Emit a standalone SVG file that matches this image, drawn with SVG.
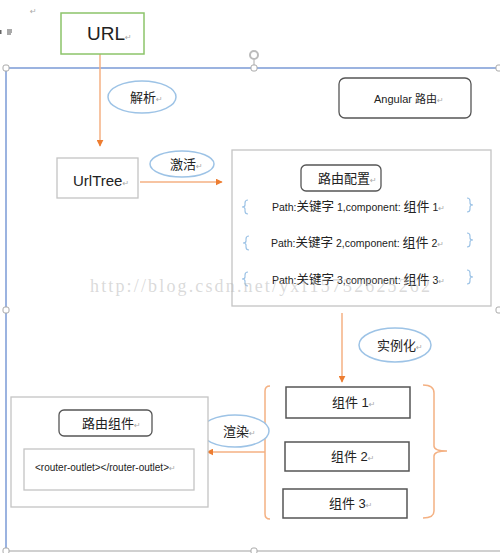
<svg xmlns="http://www.w3.org/2000/svg" width="500" height="553" viewBox="0 0 500 553">
<defs>
<style>
.t{font-family:"Liberation Sans","Noto Sans CJK SC",sans-serif;fill:#222;}
.rm{fill:#aaa;font-size:8px;font-family:"DejaVu Sans",sans-serif;}
.gbox{fill:#fff;stroke:#c4c4c4;stroke-width:1.3;}
.dbox{fill:#fff;stroke:#555;stroke-width:1.5;}
.rbox{fill:#fff;stroke:#555;stroke-width:1.3;}
.ell{fill:#fff;stroke:#9dc3e6;stroke-width:1.5;}
.con{stroke:#f4b183;stroke-width:1.5;fill:none;}
.br{stroke:#9dc3e6;stroke-width:1.2;fill:none;}
.obr{stroke:#f4b183;stroke-width:1.5;fill:none;}
.hd{fill:#fff;stroke:#aaa;stroke-width:1;}
</style>
<marker id="ah" viewBox="0 0 10 10" refX="9" refY="5" markerWidth="7" markerHeight="7" markerUnits="userSpaceOnUse" orient="auto">
<path d="M0,0 L10,5 L0,10 z" fill="#ed7d31"/>
</marker>
</defs>
<rect width="500" height="553" fill="#fff"/>

<!-- editor artefacts -->
<g id="frame">
<line x1="6" y1="68" x2="500" y2="68" stroke="#7a9ad6" stroke-width="1.5"/>
<line x1="6" y1="68" x2="6" y2="551" stroke="#7a9ad6" stroke-width="1.5"/>
<line x1="6" y1="551" x2="500" y2="551" stroke="#c0c0c0" stroke-width="1.5"/>
<line x1="254" y1="60" x2="254" y2="68" stroke="#aaa" stroke-width="1"/>
<circle cx="254" cy="55" r="4" fill="none" stroke="#bbb" stroke-width="2"/>
<rect x="3" y="65" width="6" height="6" rx="2" class="hd"/>
<rect x="251" y="65" width="6" height="6" rx="2" class="hd"/>
<rect x="3" y="307" width="6" height="6" rx="2" class="hd"/>
<rect x="251" y="548" width="6" height="6" rx="2" class="hd"/>
<rect x="3" y="548" width="6" height="6" rx="2" class="hd"/>
<rect x="496" y="65" width="6" height="6" rx="2" class="hd"/>
<rect x="496" y="307" width="6" height="6" rx="2" class="hd"/>
<path d="M7,30h5M7,32h5M7,34h4" stroke="#555" stroke-width="1"/>
<rect x="0" y="30" width="1.5" height="4" fill="#666"/>
<text x="30" y="14" class="rm">↵</text>
</g>

<g id="connectors">
<line x1="100" y1="54" x2="100" y2="146" class="con" marker-end="url(#ah)"/>
<line x1="140" y1="182" x2="222" y2="182" class="con" marker-end="url(#ah)"/>
<line x1="342" y1="313" x2="342" y2="382" class="con" marker-end="url(#ah)"/>
<line x1="265" y1="452" x2="207" y2="452" class="con" marker-end="url(#ah)"/>
</g>

<g id="url">
<rect x="61" y="13" width="83" height="41" fill="#fff" stroke="#8cc46a" stroke-width="1.5"/>
<text x="87" y="40" class="t" font-size="19">URL<tspan class="rm">↵</tspan></text>
</g>

<g id="label-parse">
<ellipse cx="142" cy="97" rx="34" ry="16" class="ell"/>
<text x="130" y="102" class="t" font-size="13">解析<tspan class="rm">↵</tspan></text>
</g>

<g id="urltree">
<rect x="57" y="158" width="81" height="40" class="gbox"/>
<text x="73" y="186" class="t" font-size="15">UrlTree<tspan class="rm">↵</tspan></text>
</g>

<g id="label-activate">
<ellipse cx="182" cy="164" rx="32" ry="13" class="ell"/>
<text x="170" y="169" class="t" font-size="13">激活<tspan class="rm">↵</tspan></text>
</g>

<g id="angular">
<rect x="339" y="78" width="132" height="40" rx="6" class="rbox"/>
<text x="374" y="103" class="t" font-size="11">Angular 路由<tspan class="rm">↵</tspan></text>
</g>

<g id="config">
<rect x="232" y="150" width="259" height="156" class="gbox"/>
<rect x="301" y="165" width="80" height="26" rx="5" class="rbox"/>
<text x="318" y="183" class="t" font-size="13">路由配置<tspan class="rm">↵</tspan></text>
<text x="272" y="211" class="t" font-size="10.5">Path:<tspan font-size="12.5">关键字</tspan> 1,component: <tspan font-size="13">组件</tspan> 1<tspan class="rm">↵</tspan></text>
<text x="271" y="247" class="t" font-size="10.5">Path:<tspan font-size="12.5">关键字</tspan> 2,component: <tspan font-size="13">组件</tspan> 2<tspan class="rm">↵</tspan></text>
<text x="272" y="284" class="t" font-size="10.5">Path:<tspan font-size="12.5">关键字</tspan> 3,component: <tspan font-size="13">组件</tspan> 3<tspan class="rm">↵</tspan></text>
<path class="br" d="M248,200 Q245,200 245,203 V205 Q245,207 242,207 Q245,207 245,209 V211 Q245,214 248,214"/>
<path class="br" d="M249,236 Q246,236 246,239 V241 Q246,243 243,243 Q246,243 246,245 V247 Q246,250 249,250"/>
<path class="br" d="M248,272 Q245,272 245,275 V277 Q245,279 242,279 Q245,279 245,281 V283 Q245,286 248,286"/>
<path class="br" d="M467,198 Q470,198 470,201 V203 Q470,205 473,205 Q470,205 470,207 V209 Q470,212 467,212"/>
<path class="br" d="M467,233 Q470,233 470,236 V238 Q470,240 473,240 Q470,240 470,242 V244 Q470,247 467,247"/>
<path class="br" d="M467,270 Q470,270 470,273 V275 Q470,277 473,277 Q470,277 470,279 V281 Q470,284 467,284"/>
</g>

<g id="label-instantiate">
<ellipse cx="395" cy="345" rx="36" ry="17" class="ell"/>
<text x="377" y="350" class="t" font-size="13">实例化<tspan class="rm">↵</tspan></text>
</g>

<g id="components">
<path class="obr" d="M270,386 Q265,386 265,391 V514 Q265,519 270,519"/>
<path class="obr" d="M423,385 Q434,385 434,393 V446 Q434,451 447,451 Q434,451 434,456 V511 Q434,518 423,518"/>
<rect x="286" y="387" width="124" height="31" class="dbox"/>
<text x="332" y="407" class="t" font-size="13">组件 1<tspan class="rm">↵</tspan></text>
<rect x="285" y="442" width="124" height="29" class="dbox"/>
<text x="331" y="461" class="t" font-size="13">组件 2<tspan class="rm">↵</tspan></text>
<rect x="283" y="489" width="124" height="29" class="dbox"/>
<text x="329" y="508" class="t" font-size="13">组件 3<tspan class="rm">↵</tspan></text>
</g>

<g id="label-render">
<ellipse cx="235" cy="431" rx="34" ry="16" class="ell"/>
<text x="223" y="436" class="t" font-size="13">渲染<tspan class="rm">↵</tspan></text>
</g>

<g id="route-component">
<rect x="11" y="397" width="197" height="110" class="gbox"/>
<rect x="59" y="410" width="93" height="26" rx="5" class="rbox"/>
<text x="82" y="428" class="t" font-size="13">路由组件<tspan class="rm">↵</tspan></text>
<rect x="24" y="449" width="170" height="41" class="gbox"/>
<text x="35" y="471" class="t" font-size="10">&lt;router-outlet&gt;&lt;/router-outlet&gt;<tspan class="rm">↵</tspan></text>
</g>

<text x="90" y="292" font-family="Liberation Serif,serif" font-size="18" fill="#bbb" fill-opacity="0.55" textLength="340">http://blog.csdn.net/yxf15732625262</text>
</svg>
